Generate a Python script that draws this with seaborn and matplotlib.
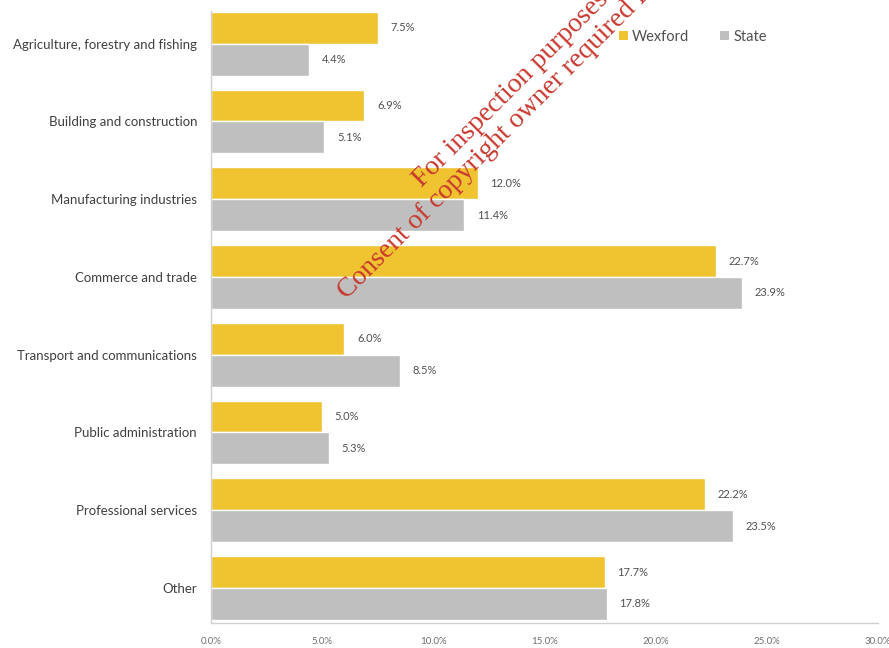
import matplotlib
matplotlib.use("Agg")
import matplotlib.pyplot as plt
import seaborn as sns
import pandas as pd
from matplotlib.patches import Patch

categories = ["Agriculture, forestry and fishing", "Building and construction",
              "Manufacturing industries", "Commerce and trade",
              "Transport and communications", "Public administration",
              "Professional services", "Other"]
wexford = [7.5, 6.9, 12.0, 22.7, 6.0, 5.0, 22.2, 17.7]
state = [4.4, 5.1, 11.4, 23.9, 8.5, 5.3, 23.5, 17.8]
series = ["Wexford", "State"]
xticks = [0, 5, 10, 15, 20, 25, 30]

df = pd.DataFrame({
    "category": categories * 2,
    "value": wexford + state,
    "area": ["Wexford"] * len(categories) + ["State"] * len(categories),
})

sns.set_theme(style="white")
plt.rcParams["font.family"] = ["Lato", "DejaVu Sans"]

colors = {"Wexford": "#F0C330", "State": "#BFBFBF"}
fig = plt.figure(figsize=(8.89, 6.48), dpi=100)
ax = fig.add_axes([211 / 889, 1 - 623 / 648, (878 - 211) / 889, (623 - 11) / 648])

sns.barplot(data=df, y="category", x="value", hue="area", order=categories,
            hue_order=series, palette=colors, orient="h", width=0.82,
            saturation=1, ax=ax, legend=False)

for cont in ax.containers:
    ax.bar_label(cont, labels=[f"{v:.1f}%" for v in cont.datavalues],
                 padding=9, fontsize=8, color="#505050")

ax.set_xlim(0, 30)
ax.set_ylim(7.45, -0.42)
ax.set_xticks(xticks)
ax.set_xticklabels([f"{t:.1f}%" for t in xticks], fontsize=7, color="#707070")
ax.tick_params(axis="x", length=3, color="#D0D0D0", pad=7)
ax.tick_params(axis="y", length=0, pad=10, labelsize=9.5, labelcolor="#404040")
ax.set_xlabel("")
ax.set_ylabel("")
for s in ["top", "right"]:
    ax.spines[s].set_visible(False)
ax.spines["left"].set_color("#D0D0D0")
ax.spines["bottom"].set_color("#D0D0D0")
ax.spines["left"].set_linewidth(1)
ax.spines["bottom"].set_linewidth(1)

handles = [Patch(facecolor=colors[s], edgecolor="none") for s in series]
fig.legend(handles, series, loc="center left", bbox_to_anchor=(606 / 889, 1 - 37 / 648),
           ncol=2, frameon=False, fontsize=10.5, handlelength=0.6, handleheight=0.6,
           handletextpad=0.3, columnspacing=2.1, labelcolor="#505050")

wm = dict(family=["Liberation Serif", "DejaVu Serif"], color="#C8382E", fontsize=20,
          rotation=45, rotation_mode="anchor", ha="left", va="baseline")
fig.text(422 / 889, 1 - 188 / 648, "For inspection purposes only.", **wm)
fig.text(347 / 889, 1 - 300 / 648, "Consent of copyright owner required for any other use.", **wm)

fig.savefig("out.png", dpi=100)
